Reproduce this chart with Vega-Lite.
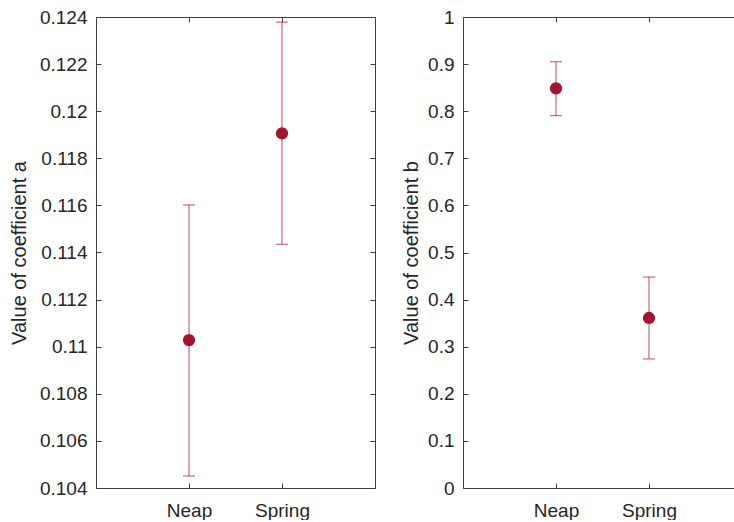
{
  "$schema": "https://vega.github.io/schema/vega-lite/v6.json",
  "background": "white",
  "padding": {"left": 9, "top": 8, "right": 0, "bottom": 0},
  "spacing": 25,
  "config": {
    "font": "Liberation Sans",
    "view": {"stroke": null},
    "axis": {
      "grid": false,
      "domainColor": "#404040",
      "domainWidth": 1,
      "tickColor": "#404040",
      "tickWidth": 1,
      "tickSize": -5,
      "labelColor": "#262626",
      "labelFont": "Liberation Sans",
      "labelFontSize": 19,
      "titleColor": "#262626",
      "titleFont": "Liberation Sans",
      "titleFontSize": 20,
      "titleFontWeight": "normal"
    }
  },
  "datasets": {
    "coefA": [
      {"tide": "Neap", "mean": 0.11028, "lo": 0.10451, "hi": 0.11602},
      {"tide": "Spring", "mean": 0.11906, "lo": 0.11435, "hi": 0.12378}
    ],
    "coefB": [
      {"tide": "Neap", "mean": 0.8486, "lo": 0.7905, "hi": 0.905},
      {"tide": "Spring", "mean": 0.361, "lo": 0.274, "hi": 0.448}
    ]
  },
  "hconcat": [
    {
      "width": 279,
      "height": 471,
      "data": {"name": "coefA"},
      "resolve": {"axis": {"x": "independent", "y": "independent"}},
      "layer": [
        {
          "mark": {"type": "rule", "color": "#A2142F", "opacity": 0.75, "strokeWidth": 1},
          "encoding": {
            "x": {"field": "tide", "type": "ordinal", "sort": ["Neap", "Spring"],
                  "scale": {"type": "point", "padding": 1},
                  "axis": {"orient": "bottom", "title": null, "labelAngle": 0, "labelPadding": 18}},
            "y": {"field": "lo", "type": "quantitative",
                  "scale": {"domain": [0.104, 0.124], "nice": false, "zero": false},
                  "axis": {"orient": "left", "title": "Value of coefficient a", "format": "~g",
                           "values": [0.104, 0.106, 0.108, 0.11, 0.112, 0.114, 0.116, 0.118, 0.12, 0.122, 0.124],
                           "labelPadding": 14, "titlePadding": 10}},
            "y2": {"field": "hi"}
          }
        },
        {
          "mark": {"type": "tick", "color": "#A2142F", "opacity": 0.75, "size": 12, "thickness": 1},
          "encoding": {
            "x": {"field": "tide", "type": "ordinal", "sort": ["Neap", "Spring"],
                  "axis": {"orient": "top", "title": null, "labels": false}},
            "y": {"field": "lo", "type": "quantitative",
                  "axis": {"orient": "right", "title": null, "labels": false,
                           "values": [0.104, 0.106, 0.108, 0.11, 0.112, 0.114, 0.116, 0.118, 0.12, 0.122, 0.124]}}
          }
        },
        {
          "mark": {"type": "tick", "color": "#A2142F", "opacity": 0.75, "size": 12, "thickness": 1},
          "encoding": {
            "x": {"field": "tide", "type": "ordinal", "sort": ["Neap", "Spring"], "axis": null},
            "y": {"field": "hi", "type": "quantitative", "axis": null}
          }
        },
        {
          "mark": {"type": "point", "filled": true, "color": "#A2142F", "opacity": 1, "size": 150},
          "encoding": {
            "x": {"field": "tide", "type": "ordinal", "sort": ["Neap", "Spring"], "axis": null},
            "y": {"field": "mean", "type": "quantitative", "axis": null}
          }
        }
      ]
    },
    {
      "width": 270,
      "height": 471,
      "data": {"name": "coefB"},
      "resolve": {"axis": {"x": "independent", "y": "independent"}},
      "layer": [
        {
          "mark": {"type": "rule", "color": "#A2142F", "opacity": 0.75, "strokeWidth": 1},
          "encoding": {
            "x": {"field": "tide", "type": "ordinal", "sort": ["Neap", "Spring"],
                  "scale": {"type": "point", "padding": 1, "range": [0, 279]},
                  "axis": {"orient": "bottom", "title": null, "labelAngle": 0, "labelPadding": 18}},
            "y": {"field": "lo", "type": "quantitative",
                  "scale": {"domain": [0, 1], "nice": false},
                  "axis": {"orient": "left", "title": "Value of coefficient b", "format": "~g",
                           "values": [0, 0.1, 0.2, 0.3, 0.4, 0.5, 0.6, 0.7, 0.8, 0.9, 1],
                           "labelPadding": 14, "titlePadding": 6}},
            "y2": {"field": "hi"}
          }
        },
        {
          "mark": {"type": "tick", "color": "#A2142F", "opacity": 0.75, "size": 12, "thickness": 1},
          "encoding": {
            "x": {"field": "tide", "type": "ordinal", "sort": ["Neap", "Spring"],
                  "axis": {"orient": "top", "title": null, "labels": false}},
            "y": {"field": "lo", "type": "quantitative", "axis": null}
          }
        },
        {
          "mark": {"type": "tick", "color": "#A2142F", "opacity": 0.75, "size": 12, "thickness": 1},
          "encoding": {
            "x": {"field": "tide", "type": "ordinal", "sort": ["Neap", "Spring"], "axis": null},
            "y": {"field": "hi", "type": "quantitative", "axis": null}
          }
        },
        {
          "mark": {"type": "point", "filled": true, "color": "#A2142F", "opacity": 1, "size": 150},
          "encoding": {
            "x": {"field": "tide", "type": "ordinal", "sort": ["Neap", "Spring"], "axis": null},
            "y": {"field": "mean", "type": "quantitative", "axis": null}
          }
        }
      ]
    }
  ]
}
